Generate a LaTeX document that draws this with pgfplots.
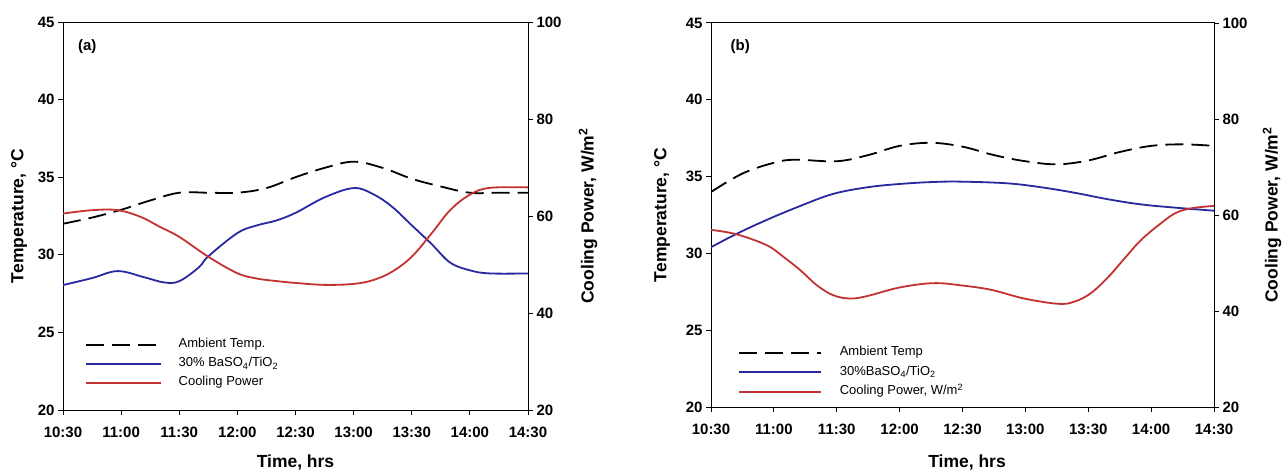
\documentclass[border=0pt]{standalone}
\usepackage{fontspec}
\setmainfont{Liberation Sans}
\usepackage{pgfplots}
\pgfplotsset{compat=1.18}

\definecolor{myblue}{RGB}{40,40,160}
\definecolor{myred}{RGB}{195,50,50}

\pgfplotsset{
  common/.style={
    scale only axis,
    xmin=10.5, xmax=14.5,
    tick align=outside,
    major tick length=5pt,
    axis line style={line width=1pt},
    every tick/.style={line width=1pt, black},
    tick label style={font=\fontsize{15}{17}\selectfont\bfseries},
    xticklabel style={yshift=-8pt},
    /pgfplots/label style={font=\fontsize{17.5}{20}\selectfont\bfseries},
    /pgf/number format/assume math mode=true,
  },
  legstyle/.style={
    legend style={draw=none, fill=none, inner sep=0pt, outer sep=0pt,
      row sep=6pt, column sep=17pt,
      font=\fontsize{13}{15}\selectfont,
      nodes={inner sep=0pt, text height=9.5pt, text depth=3.5pt}},
    legend cell align=left,
  },
}
\tikzset{amb/.style={black, line width=1.8pt, dash pattern=on 18pt off 8pt},
         bl/.style={myblue, line width=1.8pt},
         rd/.style={myred, line width=1.8pt}}

\begin{document}
\begin{tikzpicture}
\path[use as bounding box] (0pt,0pt) rectangle (1283pt,-473pt);

% ---------------- Panel (a) ----------------
\begin{axis}[common, at={(63pt,-410pt)}, anchor=south west, width=465pt, height=388pt,
  ymin=20, ymax=45, ytick={20,25,30,35,40,45},
  xtick={10.5,11,11.5,12,12.5,13,13.5,14,14.5},
  xticklabels={10:30,11:00,11:30,12:00,12:30,13:00,13:30,14:00,14:30},
  xtick pos=left, ytick pos=left,
  xlabel={Time, hrs}, ylabel={Temperature, °C},
  every axis x label/.style={at={(axis description cs:0.5,-0.1366)},anchor=center,font=\fontsize{17.5}{20}\selectfont\bfseries},
  every axis y label/.style={at={(axis description cs:-0.0946,0.5)},anchor=center,rotate=90,font=\fontsize{17.5}{20}\selectfont\bfseries},
]
\addplot[amb, smooth, tension=0.6] coordinates {
 (10.5,32.0) (10.75,32.4) (11.0,32.9) (11.25,33.5) (11.5,34.0) (11.75,34.0) (12.0,34.0)
 (12.25,34.3) (12.5,35.0) (12.75,35.6) (13.0,36.0) (13.25,35.6) (13.5,34.9) (13.75,34.4)
 (14.0,34.0) (14.25,34.0) (14.5,34.0)};
\addplot[bl, smooth, tension=0.6] coordinates {
 (10.5,28.05) (10.75,28.5) (10.97,28.95) (11.2,28.55) (11.37,28.22) (11.5,28.3) (11.67,29.2)
 (11.75,29.9) (12.0,31.4) (12.17,31.9) (12.33,32.2) (12.5,32.7) (12.75,33.7) (13.0,34.3)
 (13.17,33.9) (13.33,33.1) (13.5,31.9) (13.67,30.7) (13.83,29.5) (14.0,29.0) (14.17,28.8)
 (14.5,28.8)};
\node[font=\fontsize{15}{17}\selectfont\bfseries] at (rel axis cs:0.052,0.9356) {(a)};
\end{axis}
\begin{axis}[common, legstyle, at={(63pt,-410pt)}, anchor=south west, width=465pt, height=388pt,
  ymin=20, ymax=100, ytick={20,40,60,80,100},
  axis y line*=right, hide x axis,
  ylabel={Cooling Power, W/m\textsuperscript{2}},
  every axis y label/.style={at={(axis description cs:1.129,0.5)},anchor=center,rotate=90,font=\fontsize{17.5}{20}\selectfont\bfseries},
  legend style={at={(0.047,0.1843)}, anchor=north west},
  legend image code/.code={\draw[#1] (0pt,0pt) -- (75pt,0pt);},
]
\addlegendimage{amb}
\addlegendentry{Ambient Temp.}
\addlegendimage{bl}
\addlegendentry{30\% BaSO\textsubscript{4}/TiO\textsubscript{2}}
\addplot[rd, smooth, tension=0.6] coordinates {
 (10.5,60.5) (10.75,61.2) (10.97,61.2) (11.17,59.8) (11.33,57.8) (11.5,55.7) (11.75,51.6)
 (12.0,48.2) (12.17,47.1) (12.33,46.6) (12.5,46.2) (12.75,45.8) (13.0,46.0) (13.17,46.8)
 (13.33,48.5) (13.5,51.6) (13.67,56.4) (13.83,61.2) (14.0,64.4) (14.17,65.8) (14.5,65.9)};
\addlegendentry{Cooling Power}
\end{axis}

% ---------------- Panel (b) ----------------
\begin{axis}[common, at={(711pt,-407pt)}, anchor=south west, width=503pt, height=384pt,
  ymin=20, ymax=45, ytick={20,25,30,35,40,45},
  xtick={10.5,11,11.5,12,12.5,13,13.5,14,14.5},
  xticklabels={10:30,11:00,11:30,12:00,12:30,13:00,13:30,14:00,14:30},
  xtick pos=left, ytick pos=left,
  xlabel={Time, hrs}, ylabel={Temperature, °C},
  every axis x label/.style={at={(axis description cs:0.509,-0.1458)},anchor=center,font=\fontsize{17.5}{20}\selectfont\bfseries},
  every axis y label/.style={at={(axis description cs:-0.0974,0.5)},anchor=center,rotate=90,font=\fontsize{17.5}{20}\selectfont\bfseries},
]
\addplot[amb, smooth, tension=0.6] coordinates {
 (10.5,34.0) (10.75,35.2) (11.0,35.9) (11.17,36.1) (11.5,36.0) (11.75,36.4) (12.0,37.0)
 (12.25,37.2) (12.5,36.95) (12.75,36.4) (13.0,36.0) (13.25,35.8) (13.5,36.05) (13.75,36.6)
 (14.0,37.0) (14.25,37.1) (14.5,37.0)};
\addplot[bl, smooth, tension=0.6] coordinates {
 (10.5,30.4) (10.7,31.26) (10.94,32.17) (11.21,33.09) (11.47,33.87) (11.74,34.3) (12.0,34.52)
 (12.27,34.65) (12.5,34.67) (12.86,34.56) (13.13,34.3) (13.39,33.95) (13.66,33.52)
 (13.92,33.19) (14.19,32.98) (14.5,32.78)};
\node[font=\fontsize{15}{17}\selectfont\bfseries] at (rel axis cs:0.058,0.9375) {(b)};
\end{axis}
\begin{axis}[common, legstyle, at={(711pt,-407pt)}, anchor=south west, width=503pt, height=384pt,
  ymin=20, ymax=100, ytick={20,40,60,80,100},
  axis y line*=right, hide x axis,
  ylabel={Cooling Power, W/m\textsuperscript{2}},
  every axis y label/.style={at={(axis description cs:1.1153,0.5)},anchor=center,rotate=90,font=\fontsize{17.5}{20}\selectfont\bfseries},
  legend style={at={(0.0537,0.158)}, anchor=north west, row sep=6.5pt, column sep=18pt},
  legend image code/.code={\draw[#1] (0pt,0pt) -- (82pt,0pt);},
]
\addlegendimage{amb}
\addlegendentry{Ambient Temp}
\addlegendimage{bl}
\addlegendentry{30\%BaSO\textsubscript{4}/TiO\textsubscript{2}}
\addplot[rd, smooth, tension=0.6] coordinates {
 (10.5,56.9) (10.7,56.0) (10.94,53.75) (11.075,51.3) (11.21,48.5) (11.34,45.4) (11.47,43.3)
 (11.605,42.6) (11.74,43.1) (12.0,44.9) (12.27,45.8) (12.5,45.3) (12.73,44.4) (12.99,42.6)
 (13.26,41.5) (13.39,41.95) (13.52,43.7) (13.66,47.1) (13.79,51.0) (13.92,54.8) (14.06,57.9)
 (14.19,60.35) (14.32,61.4) (14.5,61.9)};
\addlegendentry{Cooling Power, W/m\textsuperscript{2}}
\end{axis}
\end{tikzpicture}
\end{document}
